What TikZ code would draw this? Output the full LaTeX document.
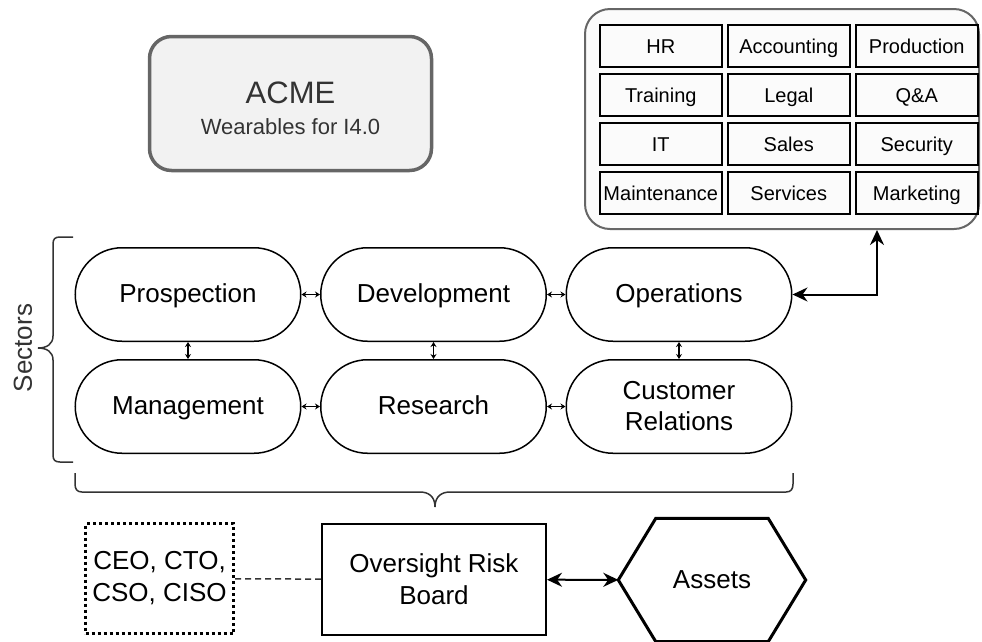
\documentclass[tikz,border=0pt]{standalone}
\usepackage{fontspec}
\setmainfont{Liberation Sans}
\usetikzlibrary{arrows.meta,calc}
\definecolor{boxgray}{HTML}{666666}
\definecolor{boxfill}{HTML}{F2F2F2}
\definecolor{txtgray}{HTML}{333333}
\tikzset{
  sector/.style={draw, line width=1.5pt, rounded corners=46.75pt, minimum width=225.5pt,
    minimum height=93.5pt, inner sep=0pt, align=center, text height=21pt, text depth=5pt,
    font=\fontsize{26}{31}\selectfont},
  dept/.style={draw, line width=2pt, minimum width=122pt, minimum height=42pt, inner sep=0pt,
    text height=18pt, text depth=4pt, font=\fontsize{20}{24}\selectfont},
  link/.style={<->, >={Stealth[length=5pt,width=6pt]}, line width=1.3pt},
  bigarrow/.style={<->, >={Stealth[length=15pt,width=14pt]}, line width=2pt},
  brc/.style={line width=1.5pt, draw=txtgray},
}
\begin{document}
\begin{tikzpicture}[x=1pt,y=-1pt,font=\fontsize{26}{32}\selectfont]
    \useasboundingbox (0,0) rectangle (982,641);
    % company
    \node[draw=boxgray, fill=boxfill, line width=3.5pt, rounded corners=22pt, minimum width=282pt,
      minimum height=134pt] (acme) at (290.5,103.5) {};
    \node[align=center, text=txtgray] (acmetxt) at ($(acme)+(0,5)$)
      {{\fontsize{31}{31}\selectfont ACME}\\[-1pt]{\fontsize{22}{22}\selectfont Wearables for I4.0}};
    % departments
    \node[draw=boxgray, fill=gray!3, line width=2pt, rounded corners=25pt, minimum width=394pt,
      minimum height=220pt] (deptbox) at (782,119) {};
    \matrix[anchor=center, column sep=4pt, row sep=5pt, inner sep=0pt] (dep) at (788.75,119.75)
    {
     \node[dept](hr) {HR};                    & \node[dept](acc) {Accounting}; & \node[dept](prod) {Production}; \\
     \node[dept](trn) {Training};             & \node[dept](leg) {Legal};      & \node[dept](qa) {Q\&A};         \\
     \node[dept](it) {IT};                    & \node[dept](sal) {Sales};      & \node[dept](secu) {Security};   \\
     \node[dept](mnt) {Maintenance};          & \node[dept](srv) {Services};   & \node[dept](mkt) {Marketing};   \\
    };
    % sectors
    \matrix[anchor=center, column sep=18.5pt, row sep=17pt, inner sep=0pt] (sec) at (433.5,350.5)
    {
     \node[sector](pro) {Prospection}; & \node[sector](dev) {Development}; & \node[sector](ops) {Operations}; \\
     \node[sector](mgt) {Management};  & \node[sector](res) {Research};    &
       \node[sector, text height={}, text depth={}](cus) {Customer\\Relations}; \\
    };
    % braces
    \draw[brc] (73,237) -- (60,237) .. controls (55,237) and (53,239) .. (53,244) -- (53,336)
      .. controls (53,344) and (47,348) .. (38,348) .. controls (47,348) and (53,352) .. (53,360)
      -- (53,455) .. controls (53,460) and (55,462) .. (60,462) -- (73,462);
    \node[rotate=90, text=txtgray] (seclbl) at (23,348) {Sectors};
    \draw[brc] (75,473) -- (75,484) .. controls (75,489) and (77,492) .. (82,492) -- (420,492)
      .. controls (428,492) and (435,496) .. (435,507) .. controls (435,496) and (442,492) .. (450,492)
      -- (786,492) .. controls (791,492) and (793,489) .. (793,484) -- (793,473);
    \begin{scope}
        \draw[link] (pro) -- (dev);
        \draw[link] (dev) -- (ops);
        \draw[link] (mgt) -- (res);
        \draw[link] (res) -- (cus);
        \draw[link] (pro) -- (mgt);
        \draw[link] (dev) -- (res);
        \draw[link] (ops) -- (cus);
        \draw[bigarrow] (ops.east) -| ($(deptbox.south)+(95,0)$);
    \end{scope}
    % board
    \node[draw, line width=3pt, dash pattern=on 3pt off 3pt, minimum width=148pt, minimum height=110pt,
      align=center, inner sep=0pt] (chief) at (159.5,578.5) {CEO, CTO,\\CSO, CISO};
    \node[draw, line width=2pt, minimum width=224pt, minimum height=111pt, align=center] (orb)
      at (434,579.5) {Oversight Risk\\Board};
    \node[minimum width=187pt, minimum height=123pt] (assets) at (712,580) {Assets};
    \draw[line width=3pt] (assets.west) -- ($(assets.north west)+(37.5,0)$)
      -- ($(assets.north east)+(-37.5,0)$) -- (assets.east)
      -- ($(assets.south east)+(-37.5,0)$) -- ($(assets.south west)+(37.5,0)$) -- cycle;
    \draw[dash pattern=on 6pt off 4pt, line width=1.5pt, draw=txtgray] (chief) -- (orb);
    \draw[bigarrow] (orb) -- (assets);
\end{tikzpicture}
\end{document}
